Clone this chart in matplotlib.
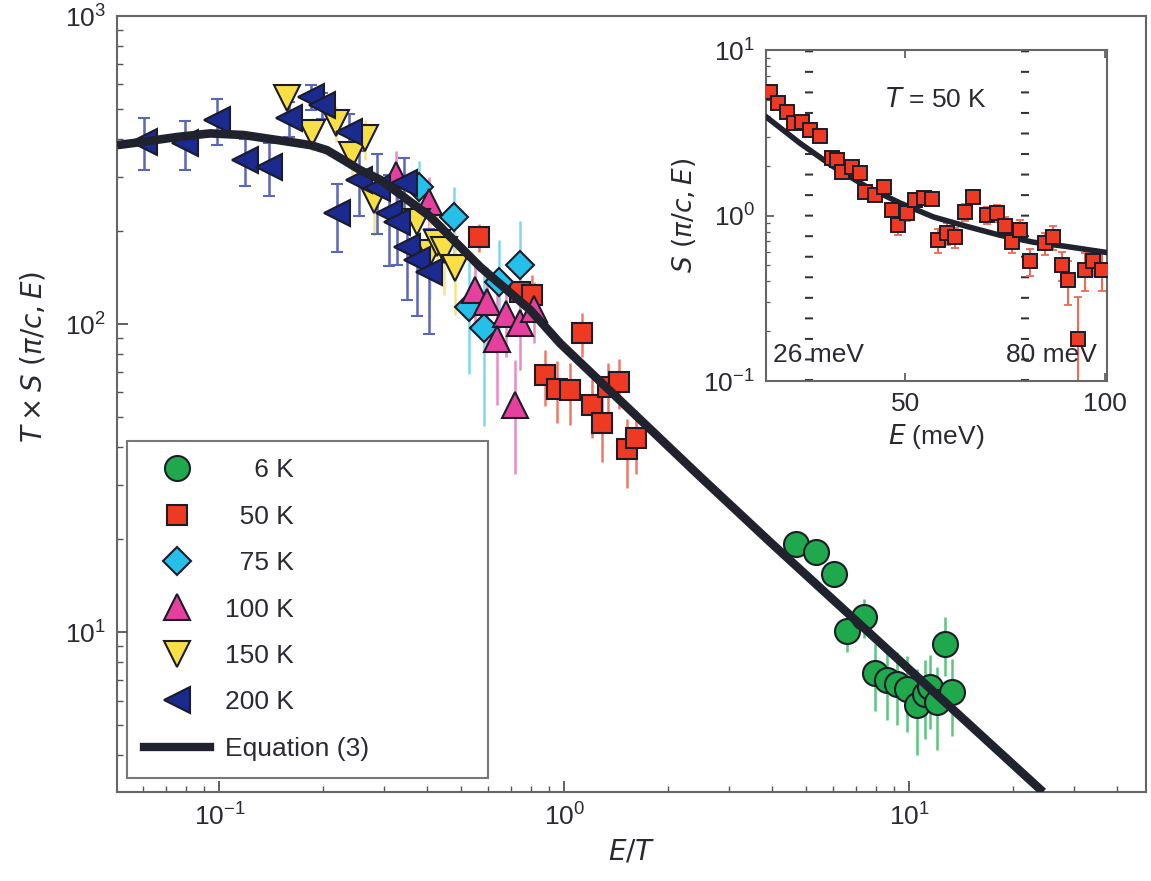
import numpy as np
import matplotlib
matplotlib.use("Agg")
from matplotlib import pyplot as plt
from matplotlib.lines import Line2D
from matplotlib.ticker import LogLocator, NullFormatter

plt.rcParams["font.family"] = ["Liberation Sans Narrow", "Liberation Sans", "DejaVu Sans"]
plt.rcParams["mathtext.fontset"] = "custom"
plt.rcParams["mathtext.rm"] = "Liberation Sans Narrow"
plt.rcParams["mathtext.it"] = "Liberation Sans Narrow:italic"
plt.rcParams["mathtext.sf"] = "Liberation Sans Narrow"

# ---- main panel data: E/T vs T x S(pi/c,E) ----
x_6K = [4.68, 5.35, 6.04, 6.60, 7.38, 7.97, 8.62, 9.21, 9.85, 10.5, 11.1, 11.5, 12.0, 12.7, 13.3]
y_6K = [19.4, 18.2, 15.5, 10.1, 11.2, 7.35, 6.99, 6.81, 6.56, 5.79, 6.32, 6.64, 5.94, 9.19, 6.40]
e_6K = [1.2, 1.2, 1.5, 1.5, 1.6, 1.8, 1.8, 1.8, 1.8, 1.8, 1.8, 1.8, 1.8, 2.0, 1.8]

x_50K = [0.565, 0.745, 0.805, 0.881, 0.953, 1.04, 1.125, 1.20, 1.285, 1.34, 1.436, 1.52, 1.607]
y_50K = [192, 127, 124, 68.2, 61.8, 61.0, 93.3, 54.6, 47.6, 62.6, 65.0, 39.4, 42.6]
e_50K = [20, 20, 20, 14, 14, 14, 15, 12, 12, 12, 12, 10, 10]

x_75K = [0.378, 0.478, 0.645, 0.528, 0.584, 0.745]
y_75K = [279, 223, 137, 114, 96.8, 156]
e_75K = [60, 55, 50, 45, 50, 60]

x_100K = [0.324, 0.404, 0.552, 0.597, 0.675, 0.638, 0.745, 0.815, 0.721]
y_100K = [305, 250, 129, 118, 108, 89.8, 101, 112, 54.6]
e_100K = [60, 50, 35, 35, 30, 35, 30, 25, 22]

x_150K = [0.157, 0.186, 0.217, 0.243, 0.265, 0.280, 0.374, 0.409, 0.428, 0.447, 0.483]
y_150K = [541, 416, 449, 354, 401, 253, 215, 170, 183, 174, 152]
e_150K = [60, 50, 60, 50, 60, 60, 50, 50, 45, 50, 45]

x_200K = [0.0604, 0.0797, 0.0985, 0.119, 0.139, 0.159, 0.184, 0.198, 0.237, 0.219,
          0.254, 0.286, 0.310, 0.327, 0.342, 0.350, 0.374, 0.404]
y_200K = [391, 386, 459, 340, 324, 466, 547, 514, 421, 229,
          294, 276, 229, 215, 287, 178, 161, 148]
e_200K = [75, 70, 78, 60, 64, 60, 50, 50, 60, 57,
          70, 80, 75, 60, 60, 58, 55, 55]

# Equation (3) curve
x_eq = [0.0505, 0.0604, 0.0754, 0.094, 0.1175, 0.147, 0.184, 0.205, 0.229, 0.256,
        0.293, 0.409, 0.571, 0.797, 0.973, 2.48, 3.95, 24.4]
y_eq = [381, 391, 405, 416, 411, 396, 381, 367, 341, 316,
        294, 223, 153, 111, 86.5, 31.9, 19.6, 3.03]

# ---- inset data: S(pi/c,E) at T = 50 K ----
E_in = [16.25, 18.3, 20.4, 22.1, 24.2, 26.25, 28.6, 31.7, 32.9, 34.2,
        36.7, 38.75, 40.0, 42.5, 44.6, 46.7, 48.3, 50.4, 52.5, 54.6,
        56.7, 58.3, 60.4, 62.5, 65.0, 67.1, 70.4, 72.9, 75.0, 76.7,
        78.75, 81.25, 85.0, 87.1, 89.2, 90.8, 93.3, 95.0, 97.1, 99.2]
S_in = [5.60, 4.76, 4.24, 3.61, 3.69, 3.29, 3.02, 2.22, 2.16, 1.84,
        1.97, 1.80, 1.39, 1.33, 1.49, 1.08, 0.88, 1.03, 1.24, 1.27,
        1.25, 0.71, 0.78, 0.74, 1.05, 1.30, 1.01, 1.04, 0.86, 0.69,
        0.82, 0.53, 0.68, 0.74, 0.50, 0.41, 0.18, 0.47, 0.53, 0.47]
dS_in = [0.3, 0.25, 0.25, 0.2, 0.2, 0.2, 0.2, 0.15, 0.15, 0.12,
         0.12, 0.12, 0.1, 0.1, 0.1, 0.1, 0.12, 0.1, 0.1, 0.1,
         0.1, 0.12, 0.12, 0.1, 0.12, 0.12, 0.12, 0.12, 0.12, 0.1,
         0.12, 0.1, 0.1, 0.12, 0.1, 0.12, 0.14, 0.12, 0.1, 0.12]
E_eq_in = [15.4, 23.75, 32.1, 40.4, 48.75, 57.1, 65.4, 73.75, 82.1, 90.4, 100]
S_eq_in = [3.92, 2.73, 1.97, 1.49, 1.19, 0.98, 0.86, 0.76, 0.69, 0.65, 0.60]
E_marks = [26, 80]

edge = "#1c1c28"
curve_col = "#20222e"
txt = "#2a2a33"
FS = 19

series = [
    (x_6K, y_6K, e_6K, "o", 18, "#20a84c", "#5cc57e", 0, "\u2007\u20076 K"),
    (x_50K, y_50K, e_50K, "s", 14, "#ee3a22", "#ee7a66", 0, "\u200750 K"),
    (x_75K, y_75K, e_75K, "D", 14, "#25bfea", "#7fd6f2", 0, "\u200775 K"),
    (x_100K, y_100K, e_100K, "^", 19, "#e6409f", "#ec8ac4", 0, "100 K"),
    (x_150K, y_150K, e_150K, "v", 19, "#f7df45", "#f3e48a", 0, "150 K"),
    (x_200K, y_200K, e_200K, "<", 19, "#1b2a8e", "#5b66b8", 4, "200 K"),
]

fig = plt.figure(figsize=(11.51, 8.81), dpi=100)
ax = fig.add_axes([0.1017, 0.1010, 0.894, 0.8808])

for xs, ys, es, mk, ms, fc, ec, cap, lab in series:
    ax.errorbar(xs, ys, yerr=es, fmt="none", ecolor=ec, elinewidth=1.8,
                capsize=cap, capthick=1.5, zorder=2)
for xs, ys, es, mk, ms, fc, ec, cap, lab in series:
    ax.plot(xs, ys, linestyle="none", marker=mk, ms=ms, mfc=fc, mec=edge,
            mew=1.5, zorder=3)
ax.plot(x_eq, y_eq, color=curve_col, lw=6.2, solid_capstyle="butt", zorder=4)

ax.set_xscale("log")
ax.set_yscale("log")
ax.set_xlim(0.0505, 48.5)
ax.set_ylim(3.03, 1000)
ax.set_xticks([0.1, 1, 10])
ax.set_yticks([10, 100, 1000])
ax.xaxis.set_minor_locator(LogLocator(base=10, subs=np.arange(2, 10)))
ax.yaxis.set_minor_locator(LogLocator(base=10, subs=np.arange(2, 10)))
ax.xaxis.set_minor_formatter(NullFormatter())
ax.yaxis.set_minor_formatter(NullFormatter())
ax.tick_params(which="both", direction="in", top=False, right=False,
               labelsize=FS, labelcolor=txt, color="#555555")
ax.tick_params(which="major", length=8, width=1.3, pad=8)
ax.tick_params(which="minor", length=4, width=1.0)
for s in ax.spines.values():
    s.set_color("#666666")
    s.set_linewidth(1.5)
ax.set_xlabel("$E/T$", fontsize=FS + 1, color=txt, labelpad=6)
ax.set_ylabel(r"$T \times S\ (\pi/c,E)$", fontsize=FS + 1, color=txt, labelpad=8)
ax.yaxis.set_label_coords(-0.068, 0.56)

handles = []
for xs, ys, es, mk, ms, fc, ec, cap, lab in series:
    handles.append(Line2D([], [], linestyle="none", marker=mk, ms=ms, mfc=fc,
                          mec=edge, mew=1.5, label=lab))
handles.append(Line2D([], [], color=curve_col, lw=6, label="Equation (3)"))
leg = ax.legend(handles=handles, loc="lower left",
                bbox_to_anchor=(0.0097, 0.018, 0.351, 0.1), mode="expand",
                fontsize=FS, frameon=True, fancybox=False, borderpad=0.65,
                handlelength=2.5, handletextpad=0.55, labelspacing=0.85,
                borderaxespad=0)
leg.get_frame().set_edgecolor("#555555")
leg.get_frame().set_linewidth(1.5)
for t in leg.get_texts():
    t.set_color(txt)

# ---- inset ----
axi = fig.add_axes([0.6655, 0.5675, 0.2963, 0.3757])
for e in E_marks:
    axi.axvline(e, color="#333333", lw=5.8, linestyle=(0, (0.25, 2.3)), zorder=1)
axi.errorbar(E_in, S_in, yerr=dS_in, fmt="none", ecolor="#ee6a55",
             elinewidth=1.5, capsize=3, capthick=1.3, zorder=2)
axi.plot(E_eq_in, S_eq_in, color=curve_col, lw=4, zorder=3)
axi.plot(E_in, S_in, linestyle="none", marker="s", ms=9.5, mfc="#ee3a22",
         mec=edge, mew=1.4, zorder=4)
axi.set_yscale("log")
axi.set_xlim(15.2, 100.5)
axi.set_ylim(0.1, 10)
axi.set_xticks([50, 100])
axi.set_yticks([0.1, 1, 10])
axi.yaxis.set_minor_locator(LogLocator(base=10, subs=np.arange(2, 10)))
axi.yaxis.set_minor_formatter(NullFormatter())
axi.tick_params(which="both", direction="in", top=True, right=False,
                labelsize=FS, labelcolor=txt, color="#555555")
axi.tick_params(which="major", length=6, width=1.2, pad=8)
axi.tick_params(which="minor", length=3, width=0.9)
for s in axi.spines.values():
    s.set_color("#666666")
    s.set_linewidth(1.5)
axi.set_xlabel("$E$ (meV)", fontsize=FS, color=txt, labelpad=4)
axi.set_ylabel(r"$S\ (\pi/c,E)$", fontsize=FS, color=txt, labelpad=4)
axi.text(0.5, 0.85, "$T$ = 50 K", transform=axi.transAxes, fontsize=FS,
         color=txt, ha="center", va="center")
axi.text(0.02, 0.08, "26 meV", transform=axi.transAxes, fontsize=FS,
         color=txt, ha="left", va="center")
axi.text(0.97, 0.08, "80 meV", transform=axi.transAxes, fontsize=FS,
         color=txt, ha="right", va="center")

fig.savefig("out.png", dpi=100)
